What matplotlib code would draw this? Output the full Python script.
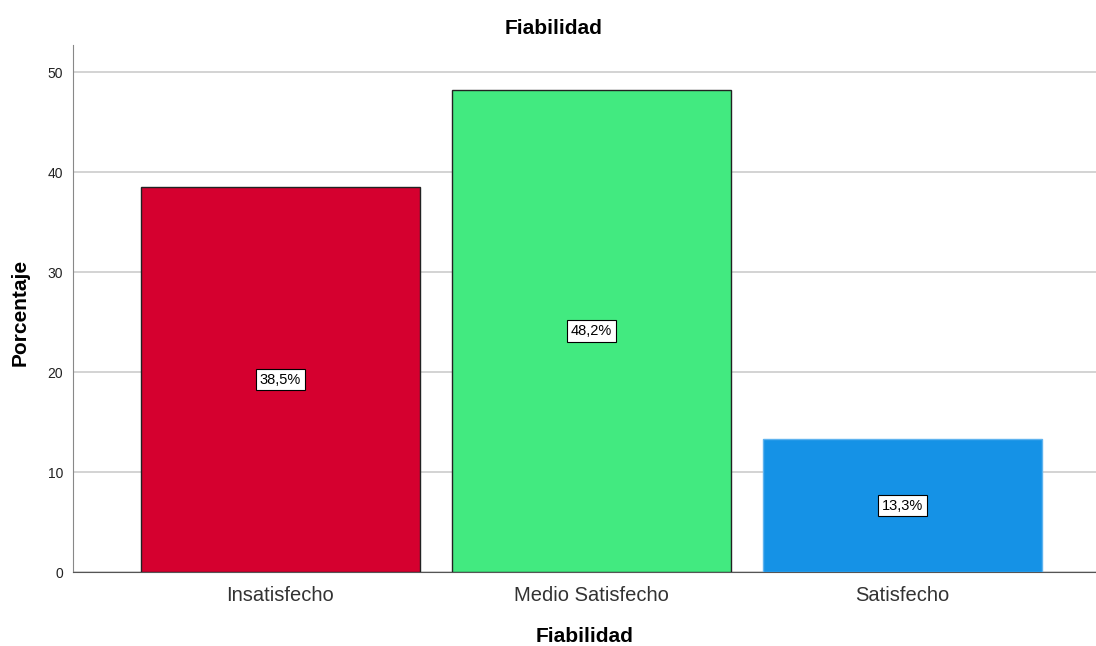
import matplotlib.pyplot as plt

plt.rcParams['font.family'] = ['Liberation Sans', 'DejaVu Sans']

categories = ['Insatisfecho', 'Medio Satisfecho', 'Satisfecho']
percentages = [38.5, 48.2, 13.3]
value_labels = ['38,5%', '48,2%', '13,3%']
bar_colors = ['#d5002f', '#42ea80', '#1592e6']
edge_colors = ['#222222', '#222222', '#5fb3ef']
y_ticks = [0, 10, 20, 30, 40, 50]

fig = plt.figure(figsize=(10.96, 6.46), dpi=100)
ax = fig.add_axes([73 / 1096, 1 - 572 / 646, 1 - 73 / 1096, (572 - 45) / 646])

x = range(len(categories))
bars = ax.bar(x, percentages, width=0.897, color=bar_colors,
              edgecolor=edge_colors, linewidth=1, zorder=3)

# Value labels in white boxes at half bar height
for xi, val, lab in zip(x, percentages, value_labels):
    ax.text(xi, val / 2, lab, ha='center', va='center', fontsize=10.5,
            zorder=4,
            bbox=dict(boxstyle='square,pad=0.25', facecolor='white',
                      edgecolor='black', linewidth=0.8))

ax.set_xlim(-0.667, 2.622)
ax.set_ylim(0, 52.7)
ax.set_yticks(y_ticks)
ax.set_xticks(list(x))
ax.set_xticklabels(categories, fontsize=14.5, color='#333333')
ax.tick_params(axis='y', labelsize=10, length=0, pad=7, labelcolor='#222222')
ax.tick_params(axis='x', length=0, pad=10)
ax.yaxis.grid(True, color='#cccccc', linewidth=1.2, zorder=0)
ax.set_axisbelow(True)

for side in ['top', 'right']:
    ax.spines[side].set_visible(False)
ax.spines['left'].set_color('#888888')
ax.spines['bottom'].set_color('#555555')

ax.set_xlabel('Fiabilidad', fontsize=15, fontweight='bold', labelpad=16)
fig.text(20 / 1096, 1 - 312 / 646, 'Porcentaje', ha='center', va='center',
         rotation=90, fontsize=15, fontweight='bold')
fig.text(554 / 1096, 1 - 28 / 646, 'Fiabilidad', ha='center', va='center',
         fontsize=15, fontweight='bold')

fig.savefig('out.png', dpi=100)
